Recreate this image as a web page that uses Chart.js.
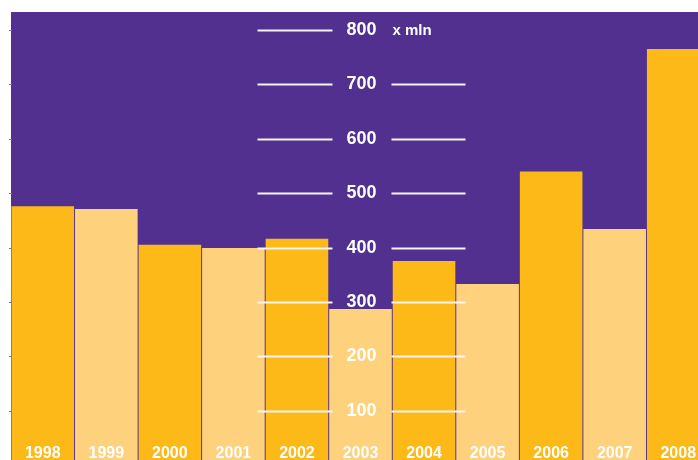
<!DOCTYPE html>
<html>
<head>
<meta charset="utf-8">
<script src="https://cdn.jsdelivr.net/npm/chart.js@4/dist/chart.umd.min.js"></script>
<style>
  html, body { margin: 0; padding: 0; background: #fff; width: 698px; height: 460px; overflow: hidden; }
  #wrap { position: absolute; left: 0; top: 0; width: 710px; height: 465px; }
</style>
</head>
<body>
<div id="wrap"><canvas id="myChart"></canvas></div>
<script>
// Data
const years = ["1998", "1999", "2000", "2001", "2002", "2003", "2004", "2005", "2006", "2007", "2008"];
const values = [476, 471, 405, 399, 416, 287, 375, 333, 540, 434, 765];
const tick_values = [100, 200, 300, 400, 500, 600, 700, 800];
const unit_label = "x mln";

const purple = "#52308F";
const dark_yellow = "#FCB918";
const light_yellow = "#FED17C";

// Purple panel behind the bars
const background_plugin = {
  id: "panel",
  beforeDraw(chart) {
    const ctx = chart.ctx;
    const area = chart.chartArea;
    ctx.save();
    ctx.fillStyle = purple;
    ctx.fillRect(area.left, area.top - 18, area.right - area.left, area.bottom - area.top + 18);
    ctx.restore();
  }
};

// Centre axis with white strokes, left tick marks and year labels
const axis_plugin = {
  id: "centre_axis",
  afterDatasetsDraw(chart) {
    const ctx = chart.ctx;
    const x = chart.scales.x;
    const y = chart.scales.y;
    const area = chart.chartArea;
    const cx = x.getPixelForValue(5) + 1;

    ctx.save();
    tick_values.forEach(v => {
      const py = Math.round(y.getPixelForValue(v)) + 0.5;

      // little tick on the left edge
      ctx.strokeStyle = "#7E6DB5";
      ctx.lineWidth = 1;
      ctx.beginPath();
      ctx.moveTo(area.left - 2, py);
      ctx.lineTo(area.left + 1, py);
      ctx.stroke();

      // white strokes either side of the label
      ctx.strokeStyle = "#F7F3F7";
      ctx.lineWidth = 2;
      ctx.beginPath();
      ctx.moveTo(cx - 104, py);
      ctx.lineTo(cx - 29, py);
      if (v !== 800) {
        ctx.moveTo(cx + 30, py);
        ctx.lineTo(cx + 104, py);
      }
      ctx.stroke();

      ctx.fillStyle = "#FFFFFF";
      ctx.font = "bold 18px 'Liberation Sans', Arial, sans-serif";
      ctx.textAlign = "center";
      ctx.textBaseline = "alphabetic";
      ctx.fillText(String(v), cx, py + 4);

      if (v === 800) {
        ctx.font = "bold 15px 'Liberation Sans', Arial, sans-serif";
        ctx.textAlign = "left";
        ctx.fillText(unit_label, cx + 31, py + 4.5);
      }
    });

    // year labels inside the bars
    ctx.fillStyle = "#FFFFFF";
    ctx.font = "bold 16px 'Liberation Sans', Arial, sans-serif";
    ctx.textAlign = "center";
    years.forEach((yr, i) => {
      ctx.fillText(yr, x.getPixelForValue(i), 458);
    });
    ctx.restore();
  }
};

const ctx = document.getElementById("myChart").getContext("2d");

const myChart = new Chart(ctx, {
  type: "bar",
  data: {
    labels: years,
    datasets: [{
      data: values,
      backgroundColor: years.map((_, i) => (i % 2 === 0 ? dark_yellow : light_yellow)),
      borderWidth: 0,
      barPercentage: 0.985,
      categoryPercentage: 1.0
    }]
  },
  options: {
    responsive: true,
    maintainAspectRatio: false,
    animation: false,
    layout: { padding: { left: 11, top: 30, right: 0, bottom: 0 } },
    plugins: {
      legend: { display: false },
      tooltip: { enabled: false }
    },
    scales: {
      x: { display: false },
      y: { display: false, min: 0, max: 800 }
    }
  },
  plugins: [background_plugin, axis_plugin]
});
</script>
</body>
</html>
